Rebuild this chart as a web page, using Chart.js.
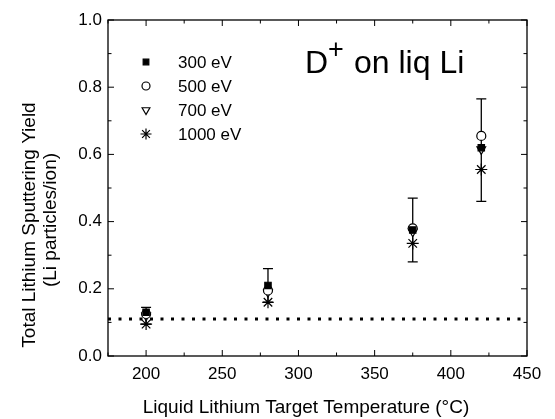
<!DOCTYPE html>
<html>
<head>
<meta charset="utf-8">
<script src="https://cdn.jsdelivr.net/npm/chart.js@4"></script>
<style>
  html, body { margin: 0; padding: 0; background: #fff; }
  #wrap { width: 555px; height: 419px; }
</style>
</head>
<body>
<div id="wrap"><canvas id="chart" width="555" height="419"></canvas></div>
<script>
const temps = [200, 280, 375, 420];
const energyLabels = ['300 eV', '500 eV', '700 eV', '1000 eV'];
const yield300 = [0.13, 0.21, 0.375, 0.62];
const yield500 = [0.125, 0.195, 0.38, 0.655];
const yield700 = [0.12, 0.19, 0.37, 0.615];
const yield1000 = [0.095, 0.16, 0.335, 0.555];
const errLow = [0.095, 0.16, 0.28, 0.46];
const errHigh = [0.145, 0.26, 0.47, 0.765];
const baseLevel = 0.11;
const xTicks = [200, 250, 300, 350, 400, 450];
const yTicks = [0.0, 0.2, 0.4, 0.6, 0.8, 1.0];
const xTitle = 'Liquid Lithium Target Temperature (°C)';
const yTitle = ['Total Lithium Sputtering Yield', '(Li particles/ion)'];

const FONT = 'Liberation Sans, Arial, sans-serif';

function pts(vals) {
  return temps.map((t, i) => ({ x: t, y: vals[i] }));
}

const series = [
  { data: yield300, style: 'rect', fill: '#000', radius: 4.5, rot: 0 },
  { data: yield500, style: 'circle', fill: '#fff', radius: 4.5, rot: 0 },
  { data: yield700, style: 'triangle', fill: '#fff', radius: 5, rot: 180 },
  { data: yield1000, style: 'star', fill: '#000', radius: 6, rot: 0 },
];

const datasets = series.map((s, i) => ({
  label: energyLabels[i],
  data: pts(s.data),
  showLine: false,
  pointStyle: s.style,
  pointRadius: s.radius,
  pointRotation: s.rot,
  pointBackgroundColor: s.fill,
  pointBorderColor: '#000',
  pointBorderWidth: 1.2,
}));

datasets.unshift({
  label: 'base',
  data: [{ x: 175, y: baseLevel }, { x: 450, y: baseLevel }],
  showLine: true,
  borderColor: '#000',
  borderWidth: 3,
  borderDash: [3, 7.5],
  pointRadius: 0,
  fill: false,
});

const decor = {
  id: 'decor',
  beforeDatasetsDraw(chart) {
    const { ctx, scales: { x, y } } = chart;
    ctx.save();
    ctx.strokeStyle = '#000';
    ctx.lineWidth = 1.3;
    // error bars
    temps.forEach((t, i) => {
      const px = x.getPixelForValue(t);
      const y1 = y.getPixelForValue(errLow[i]);
      const y2 = y.getPixelForValue(errHigh[i]);
      ctx.beginPath();
      ctx.moveTo(px, y1); ctx.lineTo(px, y2);
      ctx.moveTo(px - 5, y1); ctx.lineTo(px + 5, y1);
      ctx.moveTo(px - 5, y2); ctx.lineTo(px + 5, y2);
      ctx.stroke();
    });
    ctx.restore();
  },
  afterDraw(chart) {
    const { ctx, chartArea: a, scales: { x, y } } = chart;
    ctx.save();
    ctx.strokeStyle = '#000';
    ctx.lineWidth = 1.3;
    ctx.strokeRect(a.left, a.top, a.right - a.left, a.bottom - a.top);
    ctx.lineWidth = 1;
    ctx.beginPath();
    for (let v = 175; v <= 450; v += 25) {
      const px = x.getPixelForValue(v);
      const len = v % 50 === 0 ? 6 : 3.5;
      ctx.moveTo(px, a.bottom); ctx.lineTo(px, a.bottom - len);
      ctx.moveTo(px, a.top); ctx.lineTo(px, a.top + len);
    }
    for (let k = 0; k <= 10; k++) {
      const py = y.getPixelForValue(k / 10);
      const len = k % 2 === 0 ? 6 : 3.5;
      ctx.moveTo(a.left, py); ctx.lineTo(a.left + len, py);
      ctx.moveTo(a.right, py); ctx.lineTo(a.right - len, py);
    }
    ctx.stroke();

    // axis titles
    ctx.fillStyle = '#000';
    ctx.textAlign = 'center';
    ctx.textBaseline = 'middle';
    ctx.font = '19px ' + FONT;
    ctx.fillText(xTitle, 306, 408);
    ctx.save();
    ctx.translate(0, 0);
    ctx.rotate(-Math.PI / 2);
    ctx.fillText(yTitle[0], -225, 30);
    ctx.fillText(yTitle[1], -220, 51);
    ctx.restore();
    ctx.textAlign = 'left';

    // legend
    ctx.font = '17px ' + FONT;
    const ly = [62, 86, 110, 134];
    series.forEach((s, i) => {
      ctx.fillStyle = s.fill;
      ctx.strokeStyle = '#000';
      ctx.lineWidth = 1.2;
      Chart.helpers.drawPoint(ctx, {
        pointStyle: s.style, radius: s.radius - 0.5, rotation: s.rot, borderWidth: 1.2
      }, 146, ly[i]);
      ctx.fillStyle = '#000';
      ctx.fillText(energyLabels[i], 178, ly[i] + 1);
    });

    // annotation
    ctx.fillStyle = '#000';
    ctx.textBaseline = 'alphabetic';
    ctx.font = '32px ' + FONT;
    ctx.fillText('D', 305, 73);
    ctx.font = '27px ' + FONT;
    ctx.fillText('+', 328, 58);
    ctx.font = '32px ' + FONT;
    ctx.fillText('on liq Li', 354, 73);
    ctx.restore();
  }
};

new Chart(document.getElementById('chart'), {
  type: 'scatter',
  data: { datasets },
  options: {
    responsive: false,
    animation: false,
    layout: { padding: { top: 20, right: 28, left: 0, bottom: 0 } },
    plugins: { legend: { display: false }, tooltip: { enabled: false } },
    scales: {
      x: {
        type: 'linear', min: 175, max: 450,
        afterBuildTicks: s => { s.ticks = xTicks.map(v => ({ value: v })); },
        afterFit: s => { s.height = 63; },
        grid: { display: false, drawTicks: false },
        border: { display: false },
        ticks: { color: '#000', font: { family: FONT, size: 17 }, padding: 8, maxRotation: 0 },
      },
      y: {
        min: 0, max: 1,
        afterBuildTicks: s => { s.ticks = yTicks.map(v => ({ value: v })); },
        afterFit: s => { s.width = 108; },
        grid: { display: false, drawTicks: false },
        border: { display: false },
        ticks: { color: '#000', font: { family: FONT, size: 17 }, padding: 6,
                 callback: v => v.toFixed(1) },
      },
    },
  },
  plugins: [decor],
});
</script>
</body>
</html>
